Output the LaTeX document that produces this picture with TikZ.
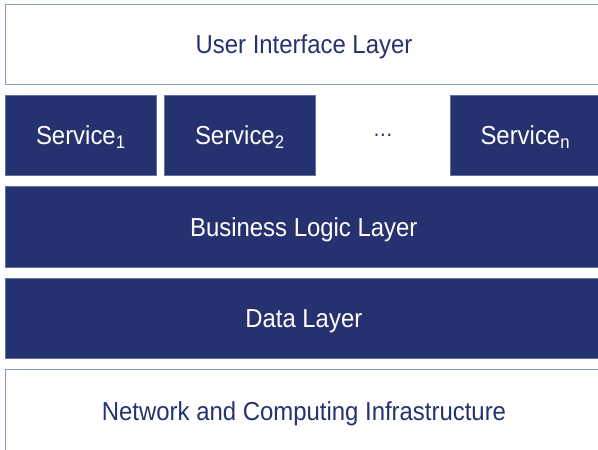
\documentclass[tikz,border=0pt]{standalone}
\usepackage{fontspec}
\setmainfont[FakeStretch=0.92]{Liberation Sans}
\usepackage{xcolor}
\definecolor{navy}{HTML}{263270}
\definecolor{edgeblue}{HTML}{8A9CC6}

\begin{document}
\begin{tikzpicture}[x=1pt,y=-1pt,
    layer/.style={rectangle,inner sep=0pt,anchor=north west,text depth=0pt,
      minimum height=80pt,font=\fontsize{26}{30}\selectfont},
    light/.style={layer,draw=edgeblue,line width=1pt,fill=white,text=navy},
    dark/.style={layer,draw=edgeblue!60!navy,line width=0.6pt,fill=navy,text=white}]
  \clip (0,0) rectangle (598,450);
  \fill[white] (0,0) rectangle (598,450);
  % layers, top to bottom
  \node[light,minimum width=597pt] (ui) at (5,4) {User Interface Layer};
  \node[dark,minimum width=151pt] (svc1) at (5,95) {Service\textsubscript{1}};
  \node[dark,minimum width=151pt] (svc2) at (164,95) {Service\textsubscript{2}};
  \node[text=navy,font=\fontsize{22}{24}\selectfont] (dots) at (383,135) {\dots};
  \node[dark,minimum width=150pt] (svcn) at (450,95) {Service\textsubscript{n}};
  \node[dark,minimum width=597pt,minimum height=81pt] (logic) at (5,186) {Business Logic Layer};
  \node[dark,minimum width=597pt] (data) at (5,278) {Data Layer};
  \node[light,minimum width=597pt,minimum height=84pt] (net) at (5,369) {Network and Computing Infrastructure};
\end{tikzpicture}
\end{document}
